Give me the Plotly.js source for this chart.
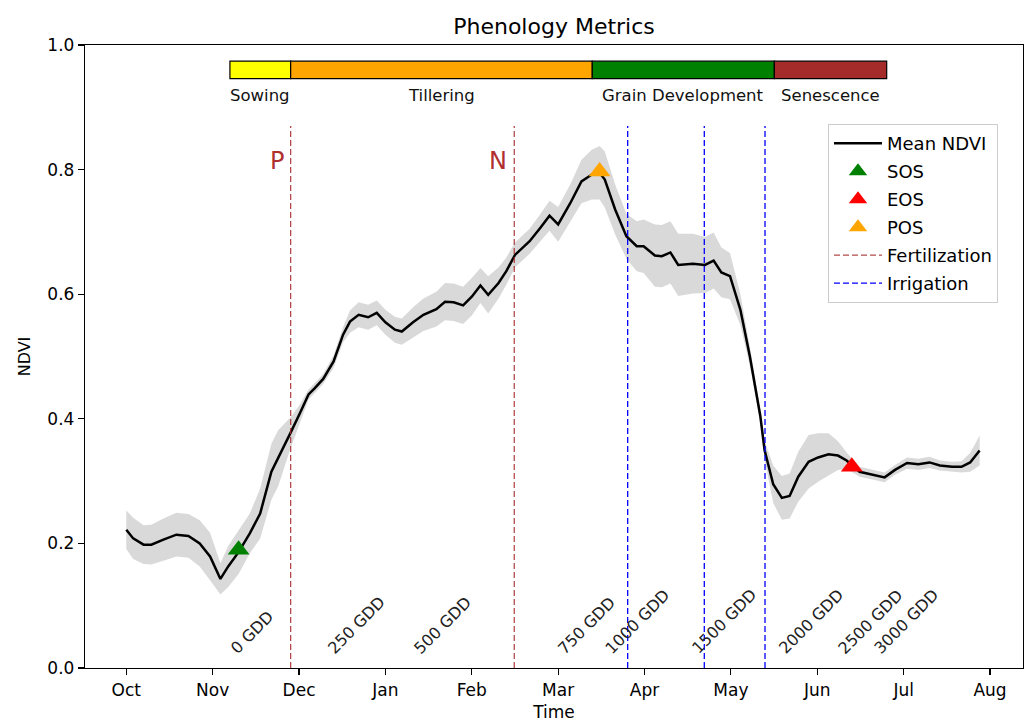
<!DOCTYPE html>
<html><head><meta charset="utf-8">
<script src="https://cdn.plot.ly/plotly-3.0.1.min.js"></script>
<style>html,body{margin:0;padding:0;background:#fff}#chart{width:1025px;height:722px}</style>
</head><body><div id="chart"></div>
<script>
// ---- data (x in months since October) ----
const monthLabels = ['Oct','Nov','Dec','Jan','Feb','Mar','Apr','May','Jun','Jul','Aug'];
const monthTicks = [0,1,2,3,4,5,6,7,8,9,10];

const timeMonths = [0.00,0.08,0.20,0.29,0.43,0.58,0.72,0.85,0.97,1.09,
  1.18,1.30,1.43,1.55,1.68,1.76,1.90,2.01,2.11,2.18,
  2.28,2.40,2.51,2.59,2.69,2.80,2.90,3.00,3.11,3.19,
  3.32,3.44,3.59,3.69,3.79,3.90,4.00,4.10,4.19,4.31,
  4.40,4.50,4.67,4.79,4.90,5.00,5.14,5.27,5.39,5.48,
  5.54,5.66,5.79,5.91,5.99,6.12,6.20,6.30,6.39,6.56,
  6.70,6.80,6.89,6.99,7.11,7.22,7.34,7.39,7.49,7.59,
  7.68,7.78,7.90,8.01,8.13,8.24,8.34,8.49,8.65,8.78,
  8.90,9.04,9.17,9.30,9.42,9.56,9.67,9.77,9.88];

const meanNDVI = [0.222,0.208,0.198,0.198,0.206,0.214,0.212,0.200,0.179,0.143,
  0.163,0.186,0.216,0.248,0.315,0.337,0.377,0.409,0.439,0.449,
  0.464,0.492,0.535,0.556,0.567,0.563,0.570,0.555,0.543,0.540,
  0.555,0.567,0.576,0.588,0.587,0.582,0.596,0.614,0.599,0.618,
  0.637,0.663,0.685,0.706,0.726,0.712,0.746,0.781,0.792,0.795,
  0.784,0.736,0.693,0.677,0.677,0.662,0.661,0.667,0.647,0.649,
  0.647,0.654,0.635,0.629,0.575,0.500,0.405,0.350,0.295,0.273,
  0.276,0.307,0.331,0.338,0.343,0.341,0.333,0.315,0.310,0.306,
  0.318,0.329,0.327,0.330,0.325,0.323,0.323,0.330,0.349];

const stdNDVI = [0.031,0.033,0.031,0.032,0.034,0.035,0.035,0.037,0.038,0.025,
  0.033,0.035,0.032,0.040,0.045,0.045,0.025,0.014,0.008,0.008,
  0.008,0.010,0.012,0.018,0.020,0.020,0.020,0.020,0.021,0.021,
  0.024,0.026,0.028,0.030,0.030,0.030,0.030,0.028,0.030,0.025,
  0.022,0.020,0.020,0.022,0.024,0.028,0.030,0.035,0.040,0.043,
  0.045,0.040,0.036,0.040,0.043,0.050,0.050,0.050,0.050,0.048,
  0.045,0.045,0.040,0.037,0.025,0.015,0.010,0.015,0.030,0.035,
  0.036,0.040,0.043,0.039,0.034,0.023,0.013,0.008,0.008,0.008,
  0.008,0.009,0.009,0.009,0.008,0.008,0.009,0.015,0.024];

const phenoNames = ['SOS','EOS','POS'];
const phenoTime = [1.30, 8.40, 5.48];
const phenoNDVI = [0.19, 0.323, 0.797];

const fertTime = [1.903, 4.492];
const fertLabels = ['P','N'];
const irrigTime = [5.805, 6.692, 7.395];

const stageNames = ['Sowing','Tillering','Grain Development','Senescence'];
const stageStart = [1.200, 1.903, 5.395, 7.503];
const stageEnd = [1.903, 5.395, 7.503, 8.804];

const gddLabels = ['0 GDD','250 GDD','500 GDD','750 GDD','1000 GDD','1500 GDD','2000 GDD','2500 GDD','3000 GDD'];
const gddTime = [1.20, 2.32, 3.32, 4.99, 5.54, 6.54, 7.55, 8.24, 8.65];

// ---- styling ----
const FONT = '"DejaVu Sans", "Liberation Sans", sans-serif';
const LINE_TOP = 0.87;
const phenoColors = ['green','red','orange'];
const stageColors = ['#ffff00','#ffa500','#008000','#a52a2a'];

const upper = meanNDVI.map((m,i)=>m+stdNDVI[i]);
const lower = meanNDVI.map((m,i)=>m-stdNDVI[i]);

function vlines(xs){
  const x=[], y=[];
  xs.forEach(v=>{x.push(v,v,null); y.push(0,LINE_TOP,null);});
  return {x,y};
}

const traces = [];
traces.push({x:timeMonths, y:upper, mode:'lines', line:{width:0,color:'rgba(128,128,128,0)'}, hoverinfo:'skip', showlegend:false});
traces.push({x:timeMonths, y:lower, mode:'lines', line:{width:0,color:'rgba(128,128,128,0)'}, fill:'tonexty', fillcolor:'rgba(128,128,128,0.3)', hoverinfo:'skip', showlegend:false});
traces.push({x:timeMonths, y:meanNDVI, mode:'lines', name:'Mean NDVI', line:{color:'black', width:2.5}, legendgroup:'g1', legendrank:1});
const fv = vlines(fertTime);
traces.push({x:fv.x, y:fv.y, mode:'lines', name:'Fertilization', line:{color:'rgba(165,42,42,0.85)', width:1.3, dash:'6px,3px'}, legendgroup:'g5', legendrank:5});
const iv = vlines(irrigTime);
traces.push({x:iv.x, y:iv.y, mode:'lines', name:'Irrigation', line:{color:'blue', width:1.3, dash:'6px,3px'}, legendgroup:'g6', legendrank:6});
phenoNames.forEach((n,i)=>{
  traces.push({x:[phenoTime[i]], y:[phenoNDVI[i]], mode:'markers', name:n,
    marker:{symbol:'triangle-up', size:19, color:phenoColors[i]}, legendgroup:'g'+(i+2), legendrank:i+2});
});
traces.push({type:'bar', orientation:'h', y:stageNames.map(()=>0.96), x:stageStart.map((s,i)=>stageEnd[i]-s),
  base:stageStart, width:0.028, marker:{color:stageColors, line:{color:'black', width:1.2}}, showlegend:false, hoverinfo:'skip'});

const annotations = [];
stageNames.forEach((n,i)=>{
  annotations.push({x:(stageStart[i]+stageEnd[i])/2, y:0.919, text:n, showarrow:false, xanchor:'center', yanchor:'middle',
    font:{family:FONT, size:16.5, color:'#111'}});
});
fertLabels.forEach((t,i)=>{
  annotations.push({x:fertTime[i], y:0.8145, text:t, showarrow:false, xanchor:'right', yanchor:'middle', xshift:-5,
    font:{family:FONT, size:24, color:'#b03030'}});
});
gddLabels.forEach((t,i)=>{
  annotations.push({x:gddTime[i], y:0.02, text:t, showarrow:false, textangle:-45, xanchor:'left', yanchor:'bottom',
    xshift:-6, yshift:-5, font:{family:FONT, size:16, color:'#222'}});
});

const axisCommon = {showgrid:false, zeroline:false, showline:true, mirror:true, linecolor:'black', linewidth:1.2,
  ticks:'outside', ticklen:6, tickwidth:1.2, tickcolor:'black', tickfont:{family:FONT, size:17, color:'black'}};

const layout = {
  width:1025, height:722,
  margin:{l:85, r:2, t:45, b:54},
  paper_bgcolor:'white', plot_bgcolor:'white',
  font:{family:FONT, color:'black'},
  title:{text:'Phenology Metrics', font:{family:FONT, size:22, color:'black'}, x:0.5, xref:'paper', xanchor:'center', y:1-26/722, yanchor:'middle'},
  xaxis:Object.assign({}, axisCommon, {range:[-0.478, 10.382], tickvals:monthTicks, ticktext:monthLabels,
    title:{text:'Time', font:{family:FONT, size:17, color:'black'}}}),
  yaxis:Object.assign({}, axisCommon, {range:[0,1], dtick:0.2, tick0:0, tickformat:'.1f', automargin:true,
    title:{text:'NDVI', font:{family:FONT, size:16, color:'black'}, standoff:12}}),
  showlegend:true,
  legend:{x:(828-85)/938, y:(668-124)/623, xanchor:'left', yanchor:'top', bordercolor:'#cccccc', borderwidth:1,
    bgcolor:'rgba(255,255,255,0.8)', font:{family:FONT, size:18, color:'black'}, tracegroupgap:1.6, itemwidth:48, traceorder:'grouped'},
  annotations:annotations,
  bargap:0
};

Plotly.newPlot('chart', traces, layout, {staticPlot:true, displayModeBar:false});
</script>
</body></html>
